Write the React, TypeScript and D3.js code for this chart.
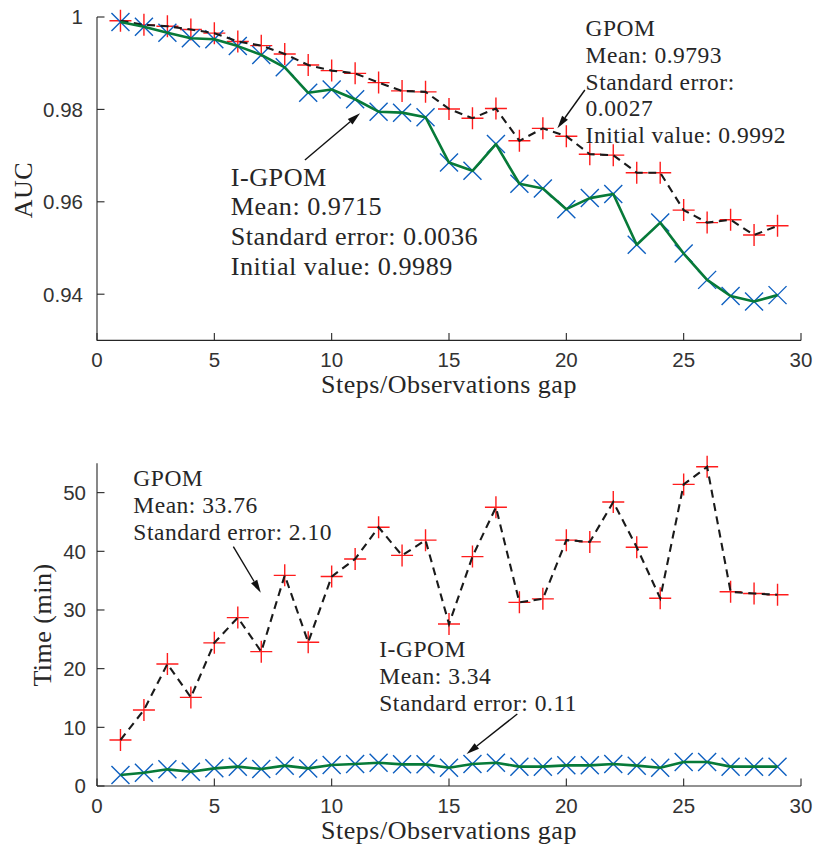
import React from 'react';
import * as d3 from 'd3';

const steps = [1, 2, 3, 4, 5, 6, 7, 8, 9, 10, 11, 12, 13, 14, 15, 16, 17, 18, 19, 20, 21, 22, 23, 24, 25, 26, 27, 28, 29];

const aucGPOM = [0.9992, 0.9983, 0.998, 0.9973, 0.9965, 0.9947, 0.9938, 0.992, 0.9896, 0.9884, 0.9878, 0.9858, 0.984, 0.9838, 0.9801, 0.9781, 0.9802, 0.9732, 0.9759, 0.9742, 0.9703, 0.9701, 0.9663, 0.9663, 0.9582, 0.9555, 0.9561, 0.9528, 0.9548];
const aucIGPOM = [0.9989, 0.9979, 0.9966, 0.9954, 0.9952, 0.9937, 0.9918, 0.9891, 0.9836, 0.9843, 0.9822, 0.9795, 0.9793, 0.9783, 0.9685, 0.9667, 0.9725, 0.9639, 0.9629, 0.9584, 0.9608, 0.9617, 0.9507, 0.9555, 0.9488, 0.9431, 0.9396, 0.9384, 0.9398];

const timeGPOM = [7.84, 12.95, 20.8, 15.1, 24.4, 28.7, 22.9, 35.9, 24.5, 35.7, 38.7, 44.1, 39.3, 41.9, 27.6, 39.1, 47.5, 31.3, 31.9, 41.9, 41.6, 48.4, 40.7, 32.0, 51.4, 54.4, 33.1, 32.8, 32.6];
const timeIGPOM = [1.87, 2.27, 2.84, 2.44, 3.01, 3.3, 2.9, 3.47, 3.0, 3.58, 3.75, 3.97, 3.69, 3.69, 3.12, 3.75, 3.97, 3.3, 3.3, 3.52, 3.52, 3.75, 3.47, 3.12, 4.09, 4.09, 3.3, 3.3, 3.3];

const xTicks = [0, 5, 10, 15, 20, 25, 30];
const aucTicks = [0.94, 0.96, 0.98, 1];
const aucTickLabels = ['0.94', '0.96', '0.98', '1'];
const timeTicks = [0, 10, 20, 30, 40, 50];
const timeTickLabels = ['0', '10', '20', '30', '40', '50'];

const xLabel = 'Steps/Observations gap';
const aucLabel = 'AUC';
const timeLabel = 'Time (min)';

const aucNoteGPOM = ['GPOM', 'Mean: 0.9793', 'Standard error:', '0.0027', 'Initial value: 0.9992'];
const aucNoteIGPOM = ['I-GPOM', 'Mean: 0.9715', 'Standard error: 0.0036', 'Initial value: 0.9989'];
const timeNoteGPOM = ['GPOM', 'Mean: 33.76', 'Standard error: 2.10'];
const timeNoteIGPOM = ['I-GPOM', 'Mean: 3.34', 'Standard error: 0.11'];

// annotation anchors in data units: [textX, textY, arrowTailX, arrowTailY, arrowTipX, arrowTipY]
const aucAnchorGPOM = [20.82, 0.99589, 20.79, 0.9842, 19.62, 0.97591];
const aucAnchorIGPOM = [5.70, 0.96349, 8.86, 0.96905, 11.21, 0.97916];
const timeAnchorGPOM = [1.55, 51.13, 5.81, 40.79, 6.98, 32.95];
const timeAnchorIGPOM = [12.03, 21.94, 17.91, 12.27, 15.75, 5.45];

const SERIF = "'Liberation Serif', 'DejaVu Serif', serif";
const SANS = "'Liberation Sans', 'DejaVu Sans', sans-serif";
const AXIS = '#262626';
const RED = '#ff1c1c';
const BLUE = '#0d5fc0';
const GREEN = '#077a38';
const DASH = '#1a1a1a';

type Note = { lines: string[]; anchor: number[]; size: number; lh: number };

function Arrow({ x1, y1, x2, y2 }: { x1: number; y1: number; x2: number; y2: number }) {
  const ang = Math.atan2(y2 - y1, x2 - x1);
  const L = 13, W = 3.6;
  const bx = x2 - L * Math.cos(ang), by = y2 - L * Math.sin(ang);
  const px = -Math.sin(ang) * W, py = Math.cos(ang) * W;
  return (
    <g>
      <line x1={x1} y1={y1} x2={bx} y2={by} stroke="#111" strokeWidth={1.4} />
      <path d={`M${x2},${y2}L${bx + px},${by + py}L${bx - px},${by - py}Z`} fill="#111" />
    </g>
  );
}

const serifStyle = (size: number) => ({ fontFamily: SERIF, fontSize: size + 'px', letterSpacing: '0.5px' });
const sansStyle = { fontFamily: SANS, fontSize: '20.5px' };

function Panel(props: {
  top: number; bottom: number; left: number; right: number;
  yDomain: [number, number]; yTicks: number[]; yTickLabels: string[]; yLabel: string;
  yLabelX: number; yLabelY: number; yTickEnd: number;
  gpom: number[]; igpom: number[]; notes: Note[];
}) {
  const { top, bottom, left, right } = props;
  const x = d3.scaleLinear().domain([0, 30]).range([left, right]);
  const y = d3.scaleLinear().domain(props.yDomain).range([bottom, top]);
  const lineG = d3.line<number>().x((_, i) => x(steps[i])).y((d) => y(d));
  const tickLen = 7.5;
  const plus = 11, cross = 9;
  return (
    <g>
      <line x1={left} y1={top} x2={left} y2={bottom} stroke={AXIS} strokeWidth={1.1} />
      <line x1={left} y1={bottom} x2={right} y2={bottom} stroke={AXIS} strokeWidth={1.1} />
      {xTicks.map((t) => (
        <g key={'xt' + t}>
          <line x1={x(t)} x2={x(t)} y1={bottom} y2={bottom - tickLen} stroke={AXIS} strokeWidth={1.1} />
          <text x={x(t)} y={bottom + 27} textAnchor="middle" style={sansStyle} fill="#333">{t}</text>
        </g>
      ))}
      {props.yTicks.map((t, i) => (
        <g key={'yt' + t}>
          <line x1={left} x2={left + tickLen} y1={y(t)} y2={y(t)} stroke={AXIS} strokeWidth={1.1} />
          <text x={props.yTickEnd} y={y(t) + 7.3} textAnchor="end" style={sansStyle} fill="#333">{props.yTickLabels[i]}</text>
        </g>
      ))}
      <text x={(left + right) / 2} y={bottom + 53} textAnchor="middle" style={serifStyle(26)} fill={AXIS}>{xLabel}</text>
      <text transform={`translate(${props.yLabelX},${props.yLabelY}) rotate(-90)`} textAnchor="middle" style={serifStyle(26)} fill={AXIS}>{props.yLabel}</text>

      {props.gpom.map((v, i) => (
        <path key={'p' + i} d={`M${x(steps[i]) - plus},${y(v)}H${x(steps[i]) + plus}M${x(steps[i])},${y(v) - plus}V${y(v) + plus}`} stroke={RED} strokeWidth={1.4} fill="none" />
      ))}
      {props.igpom.map((v, i) => (
        <path key={'x' + i} d={`M${x(steps[i]) - cross},${y(v) - cross}L${x(steps[i]) + cross},${y(v) + cross}M${x(steps[i]) - cross},${y(v) + cross}L${x(steps[i]) + cross},${y(v) - cross}`} stroke={BLUE} strokeWidth={1.4} fill="none" />
      ))}
      <path d={lineG(props.gpom) || ''} fill="none" stroke={DASH} strokeWidth={2.1} strokeDasharray="8,5.5" />
      <path d={lineG(props.igpom) || ''} fill="none" stroke={GREEN} strokeWidth={2.6} strokeLinejoin="round" />

      {props.notes.map((n, k) => {
        const [tx, ty, ax, ay, bx, by] = n.anchor;
        return (
          <g key={'n' + k}>
            {n.lines.map((l, j) => (
              <text key={j} x={x(tx)} y={y(ty) + j * n.lh} style={serifStyle(n.size)} fill={AXIS}>{l}</text>
            ))}
            <Arrow x1={x(ax)} y1={y(ay)} x2={x(bx)} y2={y(by)} />
          </g>
        );
      })}
    </g>
  );
}

export default function App() {
  return (
    <svg width={814} height={846} style={{ position: 'absolute', left: 0, top: 0, background: '#fff' }}>
      <rect x={0} y={0} width={814} height={846} fill="#fff" />
      <Panel
        top={17} bottom={340.4} left={97} right={801}
        yDomain={[0.93, 1]} yTicks={aucTicks} yTickLabels={aucTickLabels} yLabel={aucLabel}
        yLabelX={32} yLabelY={190} yTickEnd={83}
        gpom={aucGPOM} igpom={aucIGPOM}
        notes={[
          { lines: aucNoteGPOM, anchor: aucAnchorGPOM, size: 23.5, lh: 26.8 },
          { lines: aucNoteIGPOM, anchor: aucAnchorIGPOM, size: 26.2, lh: 29.8 },
        ]}
      />
      <Panel
        top={463.3} bottom={786} left={97} right={801}
        yDomain={[0, 55]} yTicks={timeTicks} yTickLabels={timeTickLabels} yLabel={timeLabel}
        yLabelX={51} yLabelY={625} yTickEnd={86}
        gpom={timeGPOM} igpom={timeIGPOM}
        notes={[
          { lines: timeNoteGPOM, anchor: timeAnchorGPOM, size: 23.5, lh: 27 },
          { lines: timeNoteIGPOM, anchor: timeAnchorIGPOM, size: 23.5, lh: 27 },
        ]}
      />
    </svg>
  );
}
